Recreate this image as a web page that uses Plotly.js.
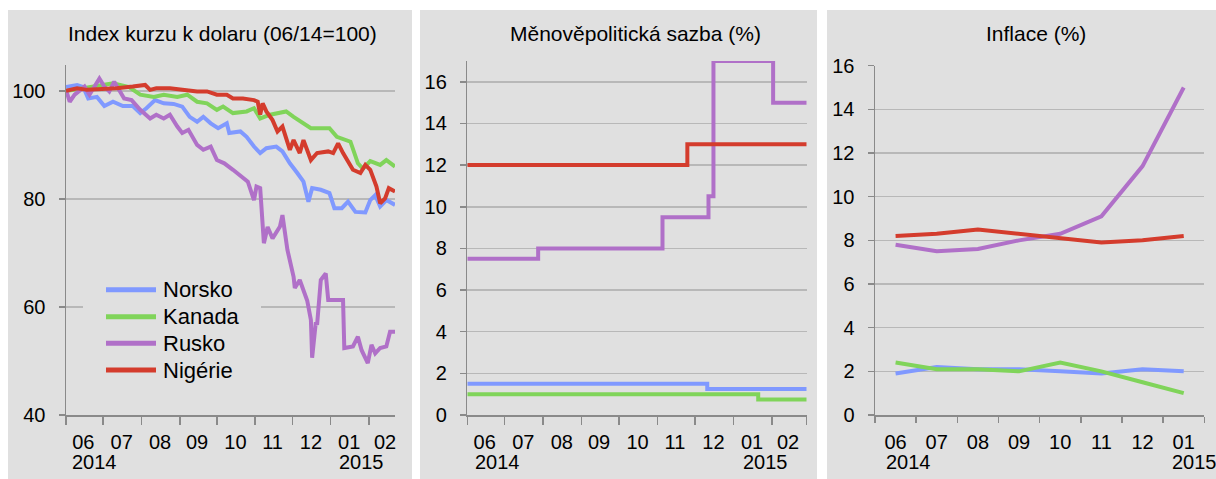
<!DOCTYPE html>
<html>
<head>
<meta charset="utf-8">
<script src="https://cdn.plot.ly/plotly-3.0.1.min.js"></script>
<style>
html,body{margin:0;padding:0;background:#fff;}
#chart{width:1216px;height:479px;}
</style>
</head>
<body>
<div id="chart"></div>
<script>
// ---------- DATA ----------
const seriesNames = ['Norsko', 'Kanada', 'Rusko', 'Nigérie'];
const seriesColors = ['#8099ff', '#80d45a', '#b070c8', '#d43c2d'];

const monthLabels = ['06', '07', '08', '09', '10', '11', '12', '01', '02'];
const monthMid = ['2014-06-15', '2014-07-16', '2014-08-16', '2014-09-15', '2014-10-16', '2014-11-15', '2014-12-16', '2015-01-16', '2015-02-14'];
const monthStarts = ['2014-06-01', '2014-07-01', '2014-08-01', '2014-09-01', '2014-10-01', '2014-11-01', '2014-12-01', '2015-01-01', '2015-02-01', '2015-03-01'];
const yearLabels = ['2014', '2015'];

// Panel 1: Index kurzu k dolaru (06/14=100)
const norskoFxDates = ['2014-06-01','2014-06-10','2014-06-15','2014-06-19','2014-06-26','2014-07-02','2014-07-09','2014-07-17','2014-07-25','2014-07-31','2014-08-05','2014-08-12','2014-08-19','2014-08-27','2014-09-03','2014-09-09','2014-09-15','2014-09-20','2014-09-26','2014-10-02','2014-10-09','2014-10-11','2014-10-20','2014-10-25','2014-10-31','2014-11-05','2014-11-10','2014-11-18','2014-11-23','2014-11-29','2014-12-05','2014-12-10','2014-12-14','2014-12-17','2014-12-24','2014-12-31','2015-01-04','2015-01-10','2015-01-15','2015-01-21','2015-01-29','2015-02-02','2015-02-06','2015-02-10','2015-02-15','2015-02-22'];
const norskoFx = [100.7,101.1,100.7,98.6,98.9,97.2,98.0,97.2,97.2,95.9,96.8,98.3,97.7,97.6,97.1,95.2,94.3,95.2,94.0,93.1,94.0,92.2,92.5,91.5,89.7,88.5,89.4,89.7,88.8,86.6,84.8,83.2,79.5,82.0,81.7,81.1,78.3,78.3,79.5,77.6,77.5,79.8,80.7,78.6,79.8,78.9];

const kanadaFxDates = ['2014-06-01','2014-06-15','2014-06-28','2014-07-09','2014-07-22','2014-07-31','2014-08-11','2014-08-19','2014-08-30','2014-09-07','2014-09-15','2014-09-23','2014-10-01','2014-10-06','2014-10-14','2014-10-25','2014-10-31','2014-11-05','2014-11-13','2014-11-18','2014-11-26','2014-12-02','2014-12-10','2014-12-16','2014-12-24','2014-12-31','2015-01-06','2015-01-17','2015-01-23','2015-01-27','2015-02-02','2015-02-10','2015-02-15','2015-02-22'];
const kanadaFx = [100,100.5,101.1,101.4,100.7,99.3,98.9,99.3,98.9,99.3,98.0,97.7,96.5,97.1,95.9,96.2,96.8,94.9,95.6,95.9,96.2,95.2,94.0,93.1,93.1,93.1,91.5,90.6,86.6,85.6,87.0,86.3,87.2,86.0];

const ruskoFxDates = ['2014-06-01','2014-06-04','2014-06-08','2014-06-16','2014-06-20','2014-06-26','2014-06-28','2014-07-02','2014-07-06','2014-07-10','2014-07-14','2014-07-18','2014-07-24','2014-07-31','2014-08-08','2014-08-13','2014-08-19','2014-08-24','2014-08-30','2014-09-03','2014-09-08','2014-09-15','2014-09-20','2014-09-26','2014-10-01','2014-10-07','2014-10-14','2014-10-20','2014-10-26','2014-10-31','2014-11-02','2014-11-05','2014-11-08','2014-11-11','2014-11-15','2014-11-21','2014-11-23','2014-11-27','2014-12-02','2014-12-03','2014-12-07','2014-12-13','2014-12-16','2014-12-17','2014-12-20','2014-12-21','2014-12-24','2014-12-28','2014-12-30','2015-01-11','2015-01-12','2015-01-19','2015-01-23','2015-01-26','2015-01-31','2015-02-03','2015-02-06','2015-02-10','2015-02-15','2015-02-18','2015-02-22'];
const ruskoFx = [100.2,98.0,99.3,100.8,99.3,101.7,102.3,100.8,99.9,101.7,100.2,98.6,98.3,96.5,94.9,95.6,94.9,95.6,93.4,92.2,92.8,90.0,89.1,89.7,87.2,86.6,85.4,84.4,83.2,79.8,82.3,82.0,71.8,74.8,72.7,74.9,77.0,70.6,65.6,63.5,65.0,61.2,57.6,50.6,57.2,56.7,65.0,66.2,61.3,61.3,52.4,52.7,54.5,52.0,49.6,53.0,51.4,52.4,52.7,55.4,55.4];

const nigerieFxDates = ['2014-06-01','2014-06-10','2014-06-18','2014-06-28','2014-07-12','2014-07-25','2014-08-04','2014-08-08','2014-08-13','2014-08-24','2014-09-04','2014-09-15','2014-09-23','2014-10-01','2014-10-09','2014-10-14','2014-10-22','2014-10-31','2014-11-03','2014-11-05','2014-11-07','2014-11-10','2014-11-15','2014-11-19','2014-11-23','2014-11-29','2014-12-02','2014-12-07','2014-12-10','2014-12-16','2014-12-21','2014-12-30','2015-01-03','2015-01-07','2015-01-11','2015-01-19','2015-01-25','2015-01-29','2015-02-02','2015-02-07','2015-02-10','2015-02-14','2015-02-17','2015-02-22'];
const nigerieFx = [100,100.5,100.2,100.3,100.5,100.8,101.1,100.2,100.5,100.5,100.2,99.9,99.9,99.3,99.3,98.6,98.6,98.3,98.0,95.6,97.7,96.2,94.6,92.5,93.4,89.1,90.9,88.5,90.9,87.2,88.5,88.8,88.5,90.3,88.5,85.4,84.8,86.3,85.4,82.3,79.2,80.1,82.0,81.4];

// Panel 2: Měnověpolitická sazba (%) — step changes
const norskoRateDates = ['2014-06-01','2014-12-11','2015-03-01'];
const norskoRate = [1.5, 1.25, 1.25];
const kanadaRateDates = ['2014-06-01','2015-01-21','2015-03-01'];
const kanadaRate = [1.0, 0.75, 0.75];
const ruskoRateDates = ['2014-06-01','2014-07-28','2014-11-05','2014-12-12','2014-12-16','2015-02-02','2015-03-01'];
const ruskoRate = [7.5, 8.0, 9.5, 10.5, 17.0, 15.0, 15.0];
const nigerieRateDates = ['2014-06-01','2014-11-25','2015-03-01'];
const nigerieRate = [12.0, 13.0, 13.0];

// Panel 3: Inflace (%)
const inflMonths = ['06','07','08','09','10','11','12','01'];
const norskoCpi = [1.9, 2.2, 2.1, 2.1, 2.0, 1.9, 2.1, 2.0];
const kanadaCpi = [2.4, 2.1, 2.1, 2.0, 2.4, 2.0, 1.5, 1.0];
const ruskoCpi = [7.8, 7.5, 7.6, 8.0, 8.3, 9.1, 11.4, 15.0];
const nigerieCpi = [8.2, 8.3, 8.5, 8.3, 8.1, 7.9, 8.0, 8.2];

const panelTitles = ['Index kurzu k dolaru (06/14=100)', 'Měnověpolitická sazba (%)', 'Inflace (%)'];

// ---------- FIGURE ----------
const W = 1216, H = 479;
const px = x => x / W;
const py = y => 1 - y / H;
const FONT = 'Liberation Sans, Arial, sans-serif';
const BG = '#e0e0e0';
const AXC = '#8a8a8a';
const GRIDC = '#b8b8b8';
const LW = 4;

const fxX = [norskoFxDates, kanadaFxDates, ruskoFxDates, nigerieFxDates];
const fxY = [norskoFx, kanadaFx, ruskoFx, nigerieFx];
const rateX = [norskoRateDates, kanadaRateDates, ruskoRateDates, nigerieRateDates];
const rateY = [norskoRate, kanadaRate, ruskoRate, nigerieRate];
const cpiY = [norskoCpi, kanadaCpi, ruskoCpi, nigerieCpi];

const traces = [];
for (let i = 0; i < 4; i++) {
  traces.push({x: fxX[i], y: fxY[i], xaxis: 'x', yaxis: 'y', type: 'scatter', mode: 'lines',
    name: seriesNames[i], line: {color: seriesColors[i], width: LW}, showlegend: false, hoverinfo: 'skip'});
}
for (let i = 0; i < 4; i++) {
  traces.push({x: rateX[i], y: rateY[i], xaxis: 'x2', yaxis: 'y2', type: 'scatter', mode: 'lines',
    name: seriesNames[i], line: {color: seriesColors[i], width: LW, shape: 'hv'}, showlegend: false, hoverinfo: 'skip'});
}
for (let i = 0; i < 4; i++) {
  traces.push({x: inflMonths, y: cpiY[i], xaxis: 'x3', yaxis: 'y3', type: 'scatter', mode: 'lines',
    name: seriesNames[i], line: {color: seriesColors[i], width: LW}, showlegend: false, hoverinfo: 'skip'});
}

const tickFont = {family: FONT, size: 20, color: '#000'};
const titleFont = {family: FONT, size: 21, color: '#000'};
const legendFont = {family: FONT, size: 22, color: '#000'};

function dateX(domain, range) {
  return {
    domain: domain, type: 'date', range: range,
    tickmode: 'array', tickvals: monthMid, ticktext: monthLabels, ticks: '',
    tickfont: tickFont, ticklabelstandoff: 8,
    showline: true, linecolor: AXC, linewidth: 1.5, showgrid: false, zeroline: false,
    minor: {tickmode: 'array', tickvals: monthStarts, ticks: 'outside', ticklen: 8, tickcolor: AXC, tickwidth: 1.5, showgrid: false},
    fixedrange: true
  };
}
function valY(domain, range, extra) {
  return Object.assign({
    domain: domain, range: range, ticks: 'outside', ticklen: 6, tickcolor: AXC, tickwidth: 1.5,
    tickfont: tickFont, ticklabelstandoff: 9,
    showline: true, linecolor: AXC, linewidth: 1.5,
    showgrid: true, gridcolor: GRIDC, gridwidth: 1.5, zeroline: false, fixedrange: true
  }, extra || {});
}

const shapes = [
  {type: 'rect', xref: 'paper', yref: 'paper', x0: px(8), x1: px(412), y0: 0, y1: py(10), fillcolor: BG, line: {width: 0}, layer: 'below'},
  {type: 'rect', xref: 'paper', yref: 'paper', x0: px(420), x1: px(817), y0: 0, y1: py(10), fillcolor: BG, line: {width: 0}, layer: 'below'},
  {type: 'rect', xref: 'paper', yref: 'paper', x0: px(827), x1: px(1216), y0: 0, y1: py(10), fillcolor: BG, line: {width: 0}, layer: 'below'},
  // legend box (hides the gridline behind the legend)
  {type: 'rect', xref: 'paper', yref: 'paper', x0: px(83), x1: px(261), y0: py(384), y1: py(276), fillcolor: BG, line: {width: 0}, layer: 'above'}
];
const annotations = [
  {text: panelTitles[0], xref: 'paper', yref: 'paper', x: px(222), y: py(34), xanchor: 'center', yanchor: 'middle', showarrow: false, font: titleFont},
  {text: panelTitles[1], xref: 'paper', yref: 'paper', x: px(635), y: py(33), xanchor: 'center', yanchor: 'middle', showarrow: false, font: titleFont},
  {text: panelTitles[2], xref: 'paper', yref: 'paper', x: px(1036), y: py(33), xanchor: 'center', yanchor: 'middle', showarrow: false, font: titleFont},
  {text: yearLabels[0], xref: 'paper', yref: 'paper', x: px(70), y: py(462), xanchor: 'left', yanchor: 'middle', showarrow: false, font: tickFont},
  {text: yearLabels[1], xref: 'paper', yref: 'paper', x: px(337), y: py(462), xanchor: 'left', yanchor: 'middle', showarrow: false, font: tickFont},
  {text: yearLabels[0], xref: 'paper', yref: 'paper', x: px(473), y: py(462), xanchor: 'left', yanchor: 'middle', showarrow: false, font: tickFont},
  {text: yearLabels[1], xref: 'paper', yref: 'paper', x: px(741), y: py(462), xanchor: 'left', yanchor: 'middle', showarrow: false, font: tickFont},
  {text: yearLabels[0], xref: 'paper', yref: 'paper', x: px(884), y: py(462), xanchor: 'left', yanchor: 'middle', showarrow: false, font: tickFont},
  {text: yearLabels[1], xref: 'paper', yref: 'paper', x: px(1170), y: py(462), xanchor: 'left', yanchor: 'middle', showarrow: false, font: tickFont}
];
// legend entries (panel 1)
const legendRows = [289.7, 316.7, 343.3, 370];
for (let i = 0; i < 4; i++) {
  shapes.push({type: 'line', xref: 'paper', yref: 'paper', x0: px(106), x1: px(156), y0: py(legendRows[i]), y1: py(legendRows[i]),
    line: {color: seriesColors[i], width: 5}, layer: 'above'});
  annotations.push({text: seriesNames[i], xref: 'paper', yref: 'paper', x: px(161), y: py(legendRows[i]), xanchor: 'left', yanchor: 'middle',
    showarrow: false, font: legendFont});
}

const layout = {
  width: W, height: H,
  margin: {l: 0, r: 0, t: 0, b: 0},
  paper_bgcolor: '#ffffff', plot_bgcolor: 'rgba(0,0,0,0)',
  font: {family: FONT, size: 20, color: '#000'},
  showlegend: false,
  xaxis: dateX([px(66), px(395)], ['2014-06-01', '2015-02-22']),
  yaxis: valY([py(415), py(65)], [40, 104.8], {tickmode: 'array', tickvals: [40, 60, 80, 100]}),
  xaxis2: Object.assign(dateX([px(467.3), px(806.7)], ['2014-06-01', '2015-03-01']), {anchor: 'y2'}),
  yaxis2: valY([py(415), py(61)], [0, 17], {anchor: 'x2', tickmode: 'linear', tick0: 0, dtick: 2}),
  xaxis3: {domain: [px(875), px(1204.3)], anchor: 'y3', type: 'category', range: [-0.5, 7.5],
    ticks: 'outside', tickson: 'boundaries', ticklen: 6, tickcolor: AXC, tickwidth: 1.5,
    tickfont: tickFont, ticklabelstandoff: 8,
    showline: true, linecolor: AXC, linewidth: 1.5, showgrid: false, zeroline: false, fixedrange: true},
  yaxis3: valY([py(415), py(65.7)], [0, 16], {anchor: 'x3', tickmode: 'linear', tick0: 0, dtick: 2}),
  shapes: shapes,
  annotations: annotations
};

Plotly.newPlot('chart', traces, layout, {staticPlot: true, displayModeBar: false});
</script>
</body>
</html>
